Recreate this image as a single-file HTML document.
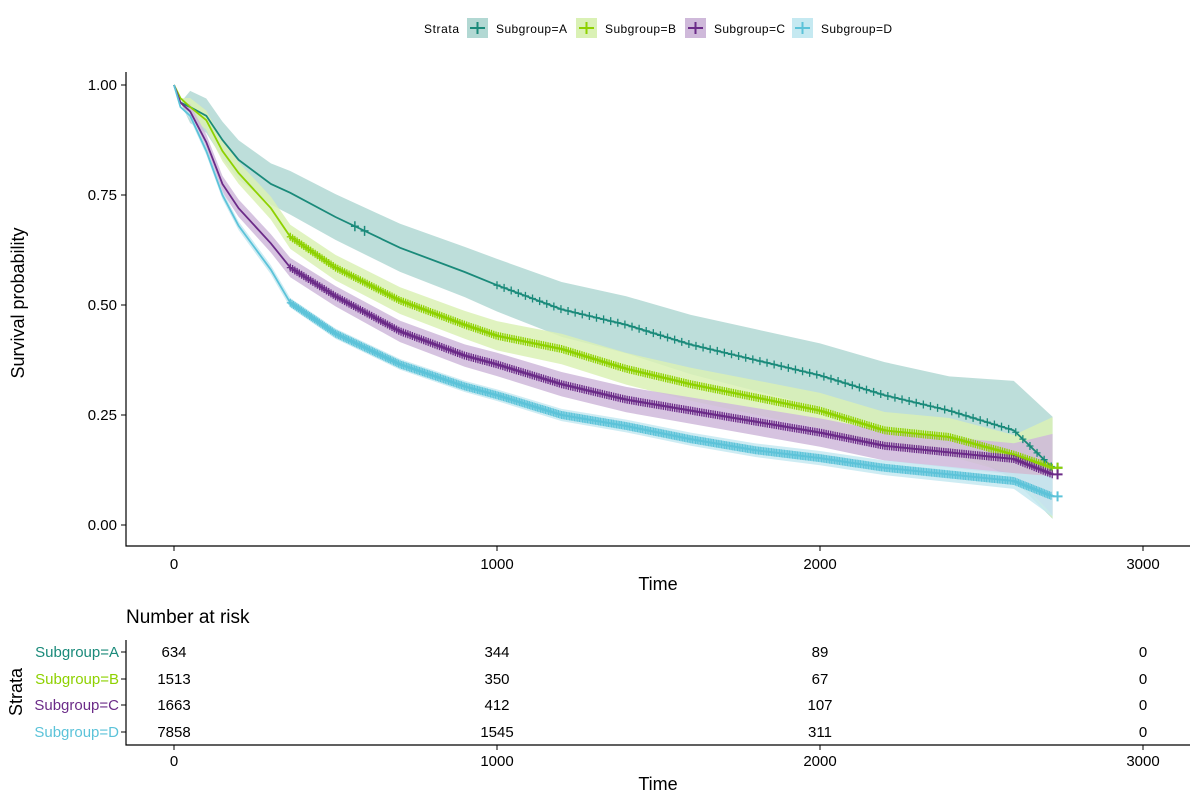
<!DOCTYPE html>
<html><head><meta charset="utf-8"><style>
body{margin:0;background:#fff;}
svg text{font-family:"Liberation Sans",Arial,sans-serif;}
</style></head><body>
<svg id="chart" width="1200" height="800" xmlns="http://www.w3.org/2000/svg">
<g id="legend"></g>
<g id="plot"></g>
<g id="table"></g>
</svg>
<script>
const groups = ["Subgroup=A","Subgroup=B","Subgroup=C","Subgroup=D"];
const colors = ["#1a8a7a","#8ed100","#6b2b88","#5cc3d9"];
const fills = ["#b2d8d3","#daf1b5","#cfb9da","#c5e9f1"];
const times = [0,20,50,100,150,200,300,360,500,700,900,1000,1200,1400,1600,1800,2000,2200,2400,2600,2720];
const survA = [1,0.96,0.95,0.93,0.875,0.83,0.775,0.755,0.70,0.63,0.575,0.545,0.49,0.455,0.41,0.375,0.34,0.295,0.26,0.215,0.13];
const survB = [1,0.97,0.95,0.92,0.85,0.80,0.72,0.655,0.585,0.51,0.455,0.43,0.40,0.355,0.32,0.29,0.26,0.215,0.20,0.16,0.13];
const survC = [1,0.96,0.94,0.87,0.775,0.72,0.64,0.585,0.52,0.44,0.385,0.365,0.32,0.285,0.26,0.235,0.21,0.18,0.165,0.15,0.115];
const survD = [1,0.95,0.93,0.85,0.75,0.68,0.58,0.505,0.435,0.365,0.315,0.295,0.25,0.225,0.195,0.17,0.152,0.13,0.115,0.10,0.065];
const ciHalf = [0.045,0.025,0.02,0.01];
const xTicks = [0,1000,2000,3000];
const yTicks = [0,0.25,0.5,0.75,1.0];
const yTickLabels = ["0.00","0.25","0.50","0.75","1.00"];
const riskTimes = [0,1000,2000,3000];
const riskA = [634,344,89,0];
const riskB = [1513,350,67,0];
const riskC = [1663,412,107,0];
const riskD = [7858,1545,311,0];
const series = [survA,survB,survC,survD];
const risks = [riskA,riskB,riskC,riskD];

const NS="http://www.w3.org/2000/svg";
function mk(tag,attrs,parent,txt){const e=document.createElementNS(NS,tag);for(const k in attrs)e.setAttribute(k,attrs[k]);if(txt!==undefined)e.textContent=txt;parent.appendChild(e);return e;}
const X=t=>174+t*0.323;
const Y=s=>525-s*440;
const plot=document.getElementById('plot');
const leg=document.getElementById('legend');
const tab=document.getElementById('table');
function interp(s,t){let i=0;while(i<times.length-2&&times[i+1]<=t)i++;
  const f=(t-times[i])/(times[i+1]-times[i]);return s[i]+(s[i+1]-s[i])*Math.min(1,Math.max(0,f));}

// bands
series.forEach((s,g)=>{
  let up=[],lo=[];
  times.forEach((t,i)=>{
    const h=i<2?0:ciHalf[g]*(0.7+i/times.length*1.2)*(i===times.length-1&&g!==0?2.5:1)*(i>=times.length-2&&g===0?1.4:1);
    up.push(X(t)+","+Y(Math.min(1,s[i]+h)));
    lo.unshift(X(t)+","+Y(Math.max(0,s[i]-h)));
  });
  const p=mk('path',{d:"M"+up.join(" L")+" L"+lo.join(" L")+"Z",fill:fills[g],opacity:0.85},plot);
  
  
});
// lines + censor marks
series.forEach((s,g)=>{
  const pts=times.map((t,i)=>X(t)+","+Y(s[i]));
  const p=mk('path',{d:"M"+pts.join(" L"),fill:"none",stroke:colors[g],"stroke-width":1.8},plot);
  
  
  const start=g===0?1000:360, step=g===0?22:(g===3?5:7);
  for(let t=start;t<times[times.length-1];t+=step){
    const cx=X(t),cy=Y(interp(s,t));
    const m=mk('path',{d:`M${cx-3.5},${cy}H${cx+3.5}M${cx},${cy-4}V${cy+4}`,stroke:colors[g],"stroke-width":1.3},plot);
    
    
  }
  if(g===0){[560,590].forEach(t=>{const cx=X(t),cy=Y(interp(s,t));
    mk('path',{d:`M${cx-4},${cy}H${cx+4}M${cx},${cy-5}V${cy+5}`,stroke:colors[g],"stroke-width":1.5},plot);});}
  const e=X(times[times.length-1])+5,ey=Y(s[s.length-1]);
  mk('path',{d:`M${e-5},${ey}H${e+5}M${e},${ey-5}V${ey+5}`,stroke:colors[g],"stroke-width":2},plot);
});
// axes
mk('path',{d:"M126,72V546H1190",fill:"none",stroke:"#000","stroke-width":1.2},plot);
xTicks.forEach(t=>{mk('line',{x1:X(t),x2:X(t),y1:546,y2:551,stroke:"#000"},plot);
  const l=mk('text',{x:X(t),y:569,"text-anchor":"middle","font-size":15},plot,t);
  });
yTicks.forEach((v,i)=>{mk('line',{x1:121,x2:126,y1:Y(v),y2:Y(v),stroke:"#000"},plot);
  const l=mk('text',{x:117,y:Y(v)+5,"text-anchor":"end","font-size":15},plot,yTickLabels[i]);
  });
let t1=mk('text',{x:658,y:590,"text-anchor":"middle","font-size":18},plot,"Time");

let t2=mk('text',{x:24,y:303,"text-anchor":"middle","font-size":18,transform:"rotate(-90 24 303)"},plot,"Survival probability");

// legend
mk('text',{x:424,y:33,"font-size":12,textLength:35},leg,"Strata");
const lx=[467,576,685,792];
groups.forEach((g,i)=>{
  const r=mk('rect',{x:lx[i],y:18,width:21,height:20,fill:fills[i]},leg);
  
  mk('path',{d:`M${lx[i]+3},28H${lx[i]+18}M${lx[i]+10.5},22V34`,stroke:colors[i],"stroke-width":2},leg);
  const t=mk('text',{x:lx[i]+29,y:33,"font-size":12,textLength:71},leg,g);
  
});
// risk table
let nt=mk('text',{x:126,y:623,"font-size":19},tab,"Number at risk");

const rowY=[652,679,705,732];
mk('path',{d:"M126,640V745H1190",fill:"none",stroke:"#000","stroke-width":1.2},tab);
groups.forEach((g,i)=>{
  const l=mk('text',{x:119,y:rowY[i]+5,"text-anchor":"end","font-size":15,fill:colors[i]},tab,g);
  
  mk('line',{x1:121,x2:126,y1:rowY[i],y2:rowY[i],stroke:"#000"},tab);
  riskTimes.forEach((t,j)=>{
    const c=mk('text',{x:X(t),y:rowY[i]+5,"text-anchor":"middle","font-size":15},tab,risks[i][j]);
    
  });
});
xTicks.forEach(t=>{mk('line',{x1:X(t),x2:X(t),y1:745,y2:750,stroke:"#000"},tab);
  mk('text',{x:X(t),y:766,"text-anchor":"middle","font-size":15},tab,t);});
let t3=mk('text',{x:658,y:790,"text-anchor":"middle","font-size":18},tab,"Time");

let t4=mk('text',{x:22,y:692,"text-anchor":"middle","font-size":18,transform:"rotate(-90 22 692)"},tab,"Strata");

</script>
</body></html>
